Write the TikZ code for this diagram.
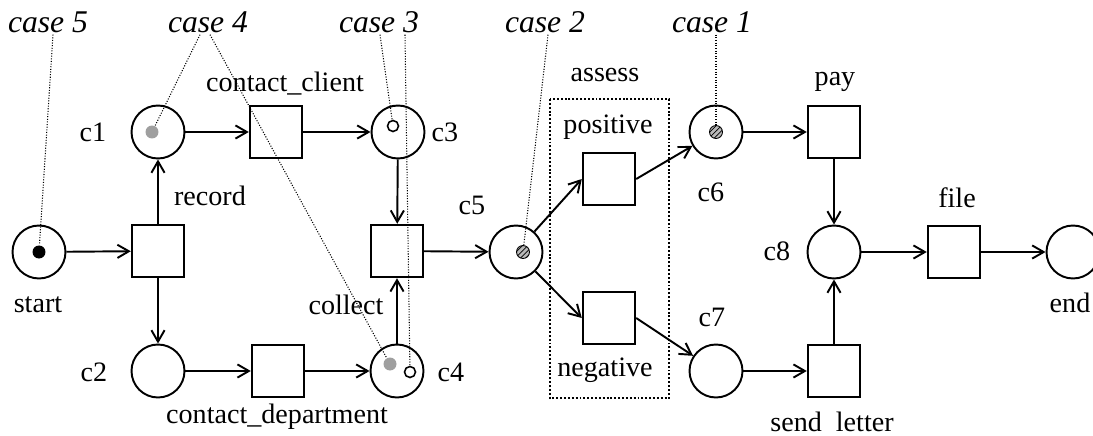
\documentclass[tikz,border=0pt]{standalone}
\usepackage{fontspec}
\setmainfont{Liberation Serif}
\usetikzlibrary{arrows.meta,patterns,calc}

\begin{document}
\begin{tikzpicture}[x=0.02cm,y=-0.02cm,>={Straight Barb[length=6.5pt,width=7.5pt]}]
		\tikzset{place/.style={shape=circle,draw,line width=1.1pt,minimum size=1.06cm,inner sep=0pt},
			trans/.style={shape=rectangle,draw,line width=1.1pt,minimum size=1.05cm,inner sep=0pt},
			lbl/.style={font=\fontsize{16}{19}\selectfont,inner sep=1pt},
			casename/.style={font=\fontsize{18}{22}\selectfont\itshape,inner sep=1pt},
			arc/.style={->,line width=1.1pt},
			pointer/.style={line width=0.6pt,dash pattern=on 0.6pt off 0.9pt},
			token/.style={shape=circle,inner sep=0pt,minimum size=0.26cm},
			hollow/.style={token,draw,fill=white,line width=0.9pt,minimum size=0.22cm},
			hatched/.style={token,draw,line width=0.5pt,preaction={fill=gray!55},pattern=north east lines}}
		\useasboundingbox (0,0) rectangle (1093,436);
		% places
		\node (start) at (39, 252) [place] {};
		\node (c1) at (158, 132) [place] {};
		\node (c2) at (158, 371) [place] {};
		\node (c3) at (398, 132) [place] {};
		\node (c4) at (397, 371) [place] {};
		\node (c5) at (516, 252) [place] {};
		\node (c6) at (716, 132) [place] {};
		\node (c7) at (716, 371) [place] {};
		\node (c8) at (834, 252) [place] {};
		\node (end) at (1073, 252) [place] {};
		% transitions
		\node (record) at (158, 251) [trans] {};
		\node (client) at (276, 132) [trans] {};
		\node (dept) at (278, 371) [trans] {};
		\node (collect) at (397, 251) [trans] {};
		\node (pos) at (609, 179) [trans] {};
		\node (neg) at (609, 318) [trans] {};
		\node (pay) at (834, 132) [trans] {};
		\node (letter) at (834, 371) [trans] {};
		\node (file) at (954, 252) [trans] {};
		% labels
		\node (lstart) at (38, 305) [lbl] {start};
		\node (lc1) at (93, 132) [lbl] {c1};
		\node (lc2) at (94, 372) [lbl] {c2};
		\node (lc3) at (445, 132) [lbl] {c3};
		\node (lc4) at (451, 372) [lbl] {c4};
		\node (lc5) at (472, 205) [lbl] {c5};
		\node (lc6) at (711, 192) [lbl] {c6};
		\node (lc7) at (712, 317) [lbl] {c7};
		\node (lc8) at (777, 251) [lbl] {c8};
		\node (lend) at (1070, 303) [lbl] {end};
		\node (lrecord) at (210, 196) [lbl] {record};
		\node (lclient) at (285, 84) [lbl] {contact\_client};
		\node (ldept) at (277, 417) [lbl] {contact\_department};
		\node (lcollect) at (346, 305) [lbl] {collect};
		\node (lassess) at (605, 75) [lbl] {assess};
		\node (lpos) at (608, 127) [lbl] {positive};
		\node (lneg) at (605, 370) [lbl] {negative};
		\node (lpay) at (835, 82) [lbl] {pay};
		\node (lfile) at (957, 198) [lbl] {file};
		\node (lletter) at (832, 422) [lbl] {send\ \ letter};
		\draw[line width=1.1pt,dash pattern=on 1.1pt off 1.1pt] (550, 99) rectangle (669, 398);
		% arcs
		\draw[arc] (start) -- (record);
		\draw[arc] (record) -- (c1);
		\draw[arc] (record) -- (c2);
		\draw[arc] (c1) -- (client);
		\draw[arc] (client) -- (c3);
		\draw[arc] (c2) -- (dept);
		\draw[arc] (dept) -- (c4);
		\draw[arc] (c3) -- (collect);
		\draw[arc] (c4) -- (collect);
		\draw[arc] (collect) -- (c5);
		\draw[arc] (c5) -- (pos.west);
		\draw[arc] (c5) -- (neg.west);
		\draw[arc] (pos.east) -- (c6);
		\draw[arc] (neg.east) -- (c7);
		\draw[arc] (c6) -- (pay);
		\draw[arc] (c7) -- (letter);
		\draw[arc] (pay) -- (c8);
		\draw[arc] (letter) -- (c8);
		\draw[arc] (c8) -- (file);
		\draw[arc] (file) -- (end);
		% tokens
		\node (tk5) at (39, 252) [token,fill=black] {};
		\node (tk4a) at (152, 132) [token,fill=gray!75] {};
		\node (tk4b) at (390, 364) [token,fill=gray!75] {};
		\node (tk3a) at (393, 126) [hollow] {};
		\node (tk3b) at (410, 372) [hollow] {};
		\node (tk2) at (523, 252) [hatched] {};
		\node (tk1) at (716, 132) [hatched] {};
		% cases
		\node (case5) at (48, 22) [casename] {case 5};
		\node (case4) at (208, 22) [casename] {case 4};
		\node (case3) at (379, 22) [casename] {case 3};
		\node (case2) at (545, 22) [casename] {case 2};
		\node (case1) at (712, 22) [casename] {case 1};
		\draw[pointer] ($(case5.south)+(5,0)$) -- (tk5);
		\draw[pointer] ($(case4.south)+(-8,0)$) -- (tk4a);
		\draw[pointer] ($(case4.south)+(2,0)$) -- (tk4b);
		\draw[pointer] ($(case3.south)+(1,0)$) -- (tk3a);
		\draw[pointer] ($(case3.south)+(26,0)$) -- (tk3b);
		\draw[pointer] ($(case2.south)+(3,0)$) -- (tk2);
		\draw[pointer] ($(case1.south)+(4,0)$) -- (tk1);
	\end{tikzpicture}
\end{document}
